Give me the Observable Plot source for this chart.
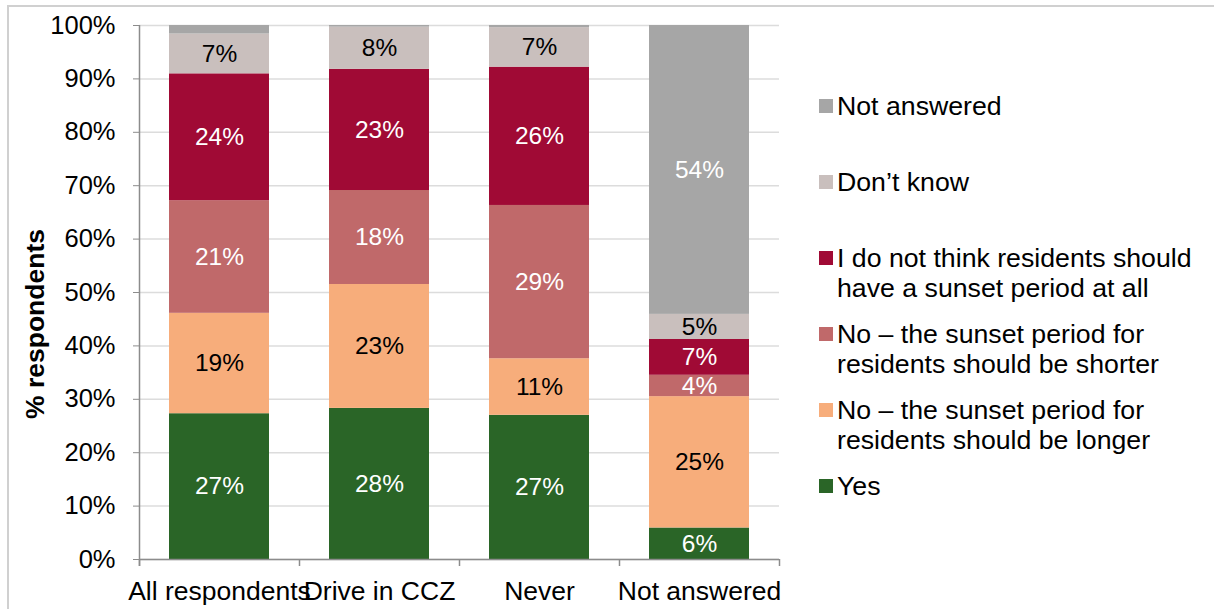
<!DOCTYPE html>
<html>
<head>
<meta charset="utf-8">
<script src="https://cdn.jsdelivr.net/npm/d3@7"></script>
<script src="https://cdn.jsdelivr.net/npm/@observablehq/plot@0.6"></script>
<style>
  body { margin: 0; background: #fff; font-family: "Liberation Sans", Arial, sans-serif; }
  #wrap { position: relative; width: 1214px; height: 609px; overflow: hidden; background: #fff; }
  #frame { position: absolute; left: 7px; top: 5px; width: 1300px; height: 700px;
           border-top: 2px solid #d0d0d0; border-left: 2px solid #d0d0d0; }
  #chart { position: absolute; left: 0; top: 0; }
  #ytitle { position: absolute; left: 35px; top: 324px; transform: translate(-50%, -50%) rotate(-90deg);
            font-weight: bold; font-size: 26.5px; white-space: nowrap; color: #000; }
  #legend { position: absolute; left: 819px; top: 91px; }
  .item { display: flex; height: 76px; align-items: flex-start; }
  .sw { width: 14px; height: 14px; margin-top: 8px; margin-right: 4px; flex: none; }
  .lab { font-size: 26.7px; line-height: 30px; white-space: nowrap; color: #000; }
</style>
</head>
<body>
<div id="wrap">
  <div id="frame"></div>
  <div id="chart"></div>
  <div id="ytitle">% respondents</div>
  <div id="legend"></div>
</div>
<script>
// ---- Data ----
const categories = ["All respondents", "Drive in CCZ", "Never", "Not answered"];
const series = [
  "Yes",
  "No – the sunset period for residents should be longer",
  "No – the sunset period for residents should be shorter",
  "I do not think residents should have a sunset period at all",
  "Don’t know",
  "Not answered"
];
const legendLines = [
  ["Yes"],
  ["No – the sunset period for", "residents should be longer"],
  ["No – the sunset period for", "residents should be shorter"],
  ["I do not think residents should", "have a sunset period at all"],
  ["Don’t know"],
  ["Not answered"]
];
const colors = ["#2a6527", "#f7ad7b", "#c0696a", "#a00a35", "#c9bfbd", "#a6a6a6"];
const labelInk = ["white", "black", "white", "white", "black", "white"];

const yesValues         = [27.3, 28.3, 27.0, 5.9];
const longerValues      = [18.8, 23.2, 10.6, 24.6];
const shorterValues     = [21.1, 17.6, 28.7, 4.0];
const noSunsetValues    = [23.75, 22.7, 25.9, 6.7];
const dontKnowValues    = [7.45, 7.9, 7.4, 4.7];
const notAnsweredValues = [1.6, 0.3, 0.4, 54.1];

const yTicks = [0, 10, 20, 30, 40, 50, 60, 70, 80, 90, 100];

// ---- Build table ----
const seriesValues = [yesValues, longerValues, shorterValues, noSunsetValues, dontKnowValues, notAnsweredValues];
const data = series.flatMap((s, i) =>
  categories.map((c, j) => ({category: c, series: s, value: seriesValues[i][j], ink: labelInk[i]})));

const W = 1214, H = 609, mL = 139, mR = 435, mT = 25, mB = 50;
const step = (W - mL - mR) / categories.length;
const axisColor = "#8c8c8c";
const font = '"Liberation Sans", Arial, sans-serif';
const labelText = ink => d => (d.ink === ink && d.value >= 3) ? Math.round(d.value) + "%" : "";

const chart = Plot.plot({
  width: W, height: H,
  marginLeft: mL, marginRight: mR, marginTop: mT, marginBottom: mB,
  style: {fontFamily: font, fontSize: "24px", color: "#000", background: "transparent", overflow: "visible"},
  x: {domain: categories, paddingInner: 0.375, paddingOuter: 0.1875, label: null},
  y: {domain: [0, 100], label: null},
  color: {domain: series, range: colors},
  marks: [
    Plot.gridY(yTicks, {stroke: "#dcdcdc", strokeOpacity: 1, strokeWidth: 1.5}),
    Plot.barY(data, {x: "category", y: "value", fill: "series", z: "series", order: series}),
    Plot.text(data, Plot.stackY({x: "category", y: "value", z: "series", order: series,
      text: labelText("white"), fill: "white", fontSize: 24.5})),
    Plot.text(data, Plot.stackY({x: "category", y: "value", z: "series", order: series,
      text: labelText("black"), fill: "black", fontSize: 24.5})),
    Plot.ruleY([0], {stroke: axisColor, strokeWidth: 1.5}),
    Plot.ruleX(categories, {x: d => d, y1: 0, y2: 0, dx: -step / 2, insetTop: 7, stroke: axisColor, strokeWidth: 1.5}),
    Plot.ruleX(categories.slice(-1), {x: d => d, y1: 0, y2: 0, dx: step / 2, insetTop: 7, stroke: axisColor, strokeWidth: 1.5}),
    Plot.ruleX(categories.slice(0, 1), {x: d => d, y1: 0, y2: 100, dx: -step / 2, insetTop: 7, stroke: axisColor, strokeWidth: 1.5}),
    Plot.axisY(yTicks, {tickFormat: d => d + "%", tickSize: 6, tickPadding: 18, stroke: axisColor, fontSize: 25.5, label: null}),
    Plot.axisX({tickSize: 0, tickPadding: 22, fontSize: 26.5, label: null})
  ]
});
document.getElementById("chart").appendChild(chart);

// ---- Legend (top to bottom: reverse of stack order) ----
const legend = document.getElementById("legend");
for (let i = series.length - 1; i >= 0; i--) {
  const item = document.createElement("div");
  item.className = "item";
  const sw = document.createElement("div");
  sw.className = "sw";
  sw.style.background = colors[i];
  const lab = document.createElement("div");
  lab.className = "lab";
  legendLines[i].forEach((line, k) => {
    if (k > 0) lab.appendChild(document.createElement("br"));
    lab.appendChild(document.createTextNode(line));
  });
  item.appendChild(sw);
  item.appendChild(lab);
  legend.appendChild(item);
}
</script>
</body>
</html>
